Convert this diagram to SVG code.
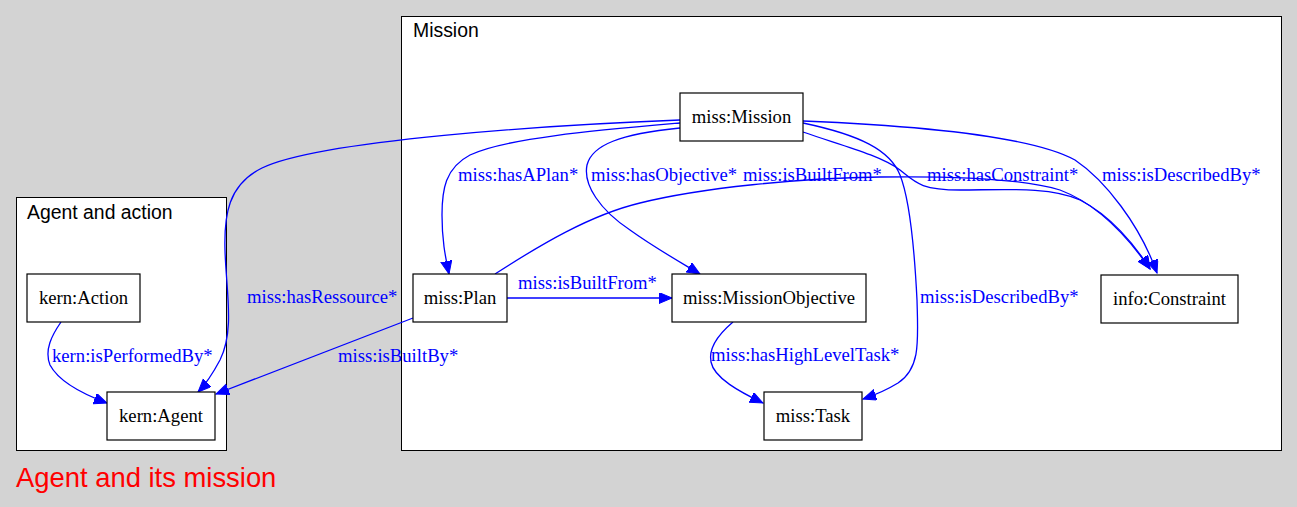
<svg xmlns="http://www.w3.org/2000/svg" width="1297" height="507" viewBox="0 0 1297 507">
<style>
.cl{fill:#fff;stroke:#000;stroke-width:1}
.nd{fill:#fff;stroke:#000;stroke-width:1.2}
.nt{font-family:"Liberation Serif","Times New Roman",serif;font-size:18.67px;fill:#000;text-anchor:middle}
.ct{font-family:"Liberation Sans",Arial,sans-serif;font-size:19.4px;fill:#000}
.el{font-family:"Liberation Serif","Times New Roman",serif;font-size:18.67px;fill:#0000ff}
.e{fill:none;stroke:#0000ff;stroke-width:1.3;marker-end:url(#ah)}
</style>
<defs>
<marker id="ah" markerUnits="userSpaceOnUse" markerWidth="14" markerHeight="12" refX="13" refY="5.5" orient="auto">
<path d="M0,0 L13,5.5 L0,11 z" fill="#0000ff" stroke="#0000ff" stroke-width="1"/>
</marker>
</defs>
<rect x="0" y="0" width="1297" height="507" fill="#d3d3d3"/>
<g id="cluster_mission">
<rect class="cl" x="401.5" y="16.5" width="880" height="434"/>
<text class="ct" x="413" y="37">Mission</text>
</g>
<g id="cluster_agent">
<rect class="cl" x="16.5" y="197.5" width="210" height="253"/>
<text class="ct" x="27" y="219">Agent and action</text>
</g>
<g id="edges">
<path class="e" d="M680,120 C550,125 320,140 262,168 C228,185 224,215 225,250 C226,290 235,330 220,360 C212,375 205,385 198,392"/>
<path class="e" d="M680,123 C600,130 505,138 470,155 C445,168 442,190 442,215 C442,240 445,255 449,274"/>
<path class="e" d="M680,128 C620,134 592,145 587,165 C583,185 600,210 630,230 C655,248 680,262 700,274"/>
<path class="e" d="M495,274 C540,245 590,215 640,203 C700,188 800,178 880,177 C950,176 1020,178 1060,190 C1100,205 1130,240 1150,269"/>
<path class="e" d="M803,132 C840,145 880,155 900,170 C915,182 920,190 960,190 C1000,190 1050,186 1080,200 C1110,215 1135,245 1150,269"/>
<path class="e" d="M803,121 C900,125 1030,135 1075,160 C1105,180 1140,225 1157,273"/>
<path class="e" d="M803,123 C860,135 890,150 900,175 C910,200 915,260 917,300 C918,340 921,368 898,383 C885,391 875,395 863,399"/>
<path class="e" d="M507,298 L672,298"/>
<path class="e" d="M413,318 L216,394"/>
<path class="e" d="M61,322 C52,335 44,350 50,365 C58,380 80,393 107,403"/>
<path class="e" d="M733,322 C720,333 708,347 711,362 C714,378 740,392 763,403"/>
<text class="el" x="247" y="303">miss:hasRessource*</text>
<text class="el" x="458" y="181">miss:hasAPlan*</text>
<text class="el" x="591" y="181">miss:hasObjective*</text>
<text class="el" x="743" y="181">miss:isBuiltFrom*</text>
<text class="el" x="927" y="181">miss:hasConstraint*</text>
<text class="el" x="1102" y="181">miss:isDescribedBy*</text>
<text class="el" x="920" y="303">miss:isDescribedBy*</text>
<text class="el" x="518" y="289">miss:isBuiltFrom*</text>
<text class="el" x="338" y="362">miss:isBuiltBy*</text>
<text class="el" x="52" y="362">kern:isPerformedBy*</text>
<text class="el" x="711" y="361">miss:hasHighLevelTask*</text>
</g>
<g id="node_mission"><rect class="nd" x="680" y="93" width="123" height="48"/><text class="nt" x="741.5" y="123">miss:Mission</text></g>
<g id="node_plan"><rect class="nd" x="413" y="274" width="94" height="48"/><text class="nt" x="460" y="304">miss:Plan</text></g>
<g id="node_objective"><rect class="nd" x="672" y="274" width="194" height="48"/><text class="nt" x="769" y="304">miss:MissionObjective</text></g>
<g id="node_task"><rect class="nd" x="764" y="392" width="98" height="48"/><text class="nt" x="813" y="422">miss:Task</text></g>
<g id="node_constraint"><rect class="nd" x="1101" y="275" width="137" height="48"/><text class="nt" x="1169.5" y="305">info:Constraint</text></g>
<g id="node_action"><rect class="nd" x="27" y="274" width="113" height="48"/><text class="nt" x="83.5" y="304">kern:Action</text></g>
<g id="node_agent"><rect class="nd" x="107" y="392" width="108" height="48"/><text class="nt" x="161" y="422">kern:Agent</text></g>
<text x="16" y="487" font-family="Liberation Sans,Arial,sans-serif" font-size="27.4px" fill="#ff0000">Agent and its mission</text>
</svg>
